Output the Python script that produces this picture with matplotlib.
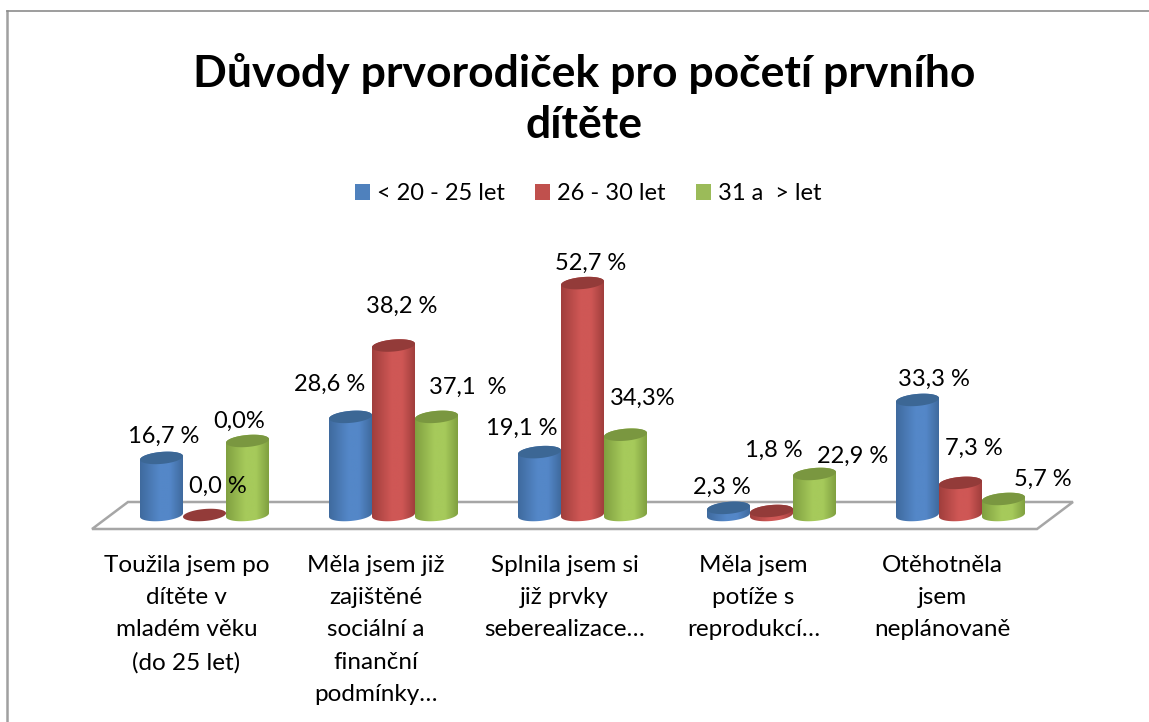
import numpy as np
import matplotlib
matplotlib.use("Agg")
import matplotlib.pyplot as plt
from matplotlib.colors import LinearSegmentedColormap
from matplotlib.patches import Patch, PathPatch, Polygon
from matplotlib.path import Path

plt.rcParams['font.family'] = ['Lato', 'DejaVu Sans']

# data
categories = [
    "Toužila jsem po\ndítěte v\nmladém věku\n(do 25 let)",
    "Měla jsem již\nzajištěné\nsociální a\nfinanční\npodmínky…",
    "Splnila jsem si\njiž prvky\nseberealizace…",
    "Měla jsem\npotíže s\nreprodukcí…",
    "Otěhotněla\njsem\nneplánovaně",
]
series_names = ["< 20 - 25 let", "26 - 30 let", "31 a  > let"]
blue_values = [12.8, 22.0, 14.1, 1.6, 25.8]
red_values = [0.0, 38.0, 52.0, 0.9, 7.2]
green_values = [16.6, 22.0, 18.0, 9.2, 3.6]
blue_labels = ["16,7 %", "28,6 %", "19,1 %", "2,3 %", "33,3 %"]
red_labels = ["0,0 %", "38,2 %", "52,7 %", "1,8 %", "7,3 %"]
green_labels = ["0,0%", "37,1  %", "34,3%", "22,9 %", "5,7 %"]

# label offsets from the top of each cylinder, in pixels
blue_offsets = [(2.5, 22), (-21, 33), (-17.5, 24), (-6.5, 21), (16.5, 21)]
red_offsets = [(13.5, 29), (8.5, 39), (8.5, 20), (2.5, 61), (13.5, 35)]
green_offsets = [(-8.5, 20), (31.5, 30), (17.5, 36), (38.5, 18), (39.5, 20)]

# colours: edge of body, light part of body, top
blue_cols = ("#3f6a9e", "#5487c8", "#3c6795")
red_cols = ("#a03e3c", "#cf5755", "#933b39")
green_cols = ("#80a040", "#a6ca5b", "#7a9740")

W, H = 1149, 722
PX_X = 189.0   # pixels per group
PX_Y = 4.46    # pixels per percent
X0 = 204.5     # pixel of first group centre
Y0 = 515.0     # pixel of baseline

BAR_W = 43 / PX_X
HALF_W = 0.5 * BAR_W
HALF_H = 6.0 / PX_Y
TILT = 1.8 / PX_Y


def cap(xc, y):
    t = np.linspace(0, 2 * np.pi, 80)
    c = np.cos(t)
    return np.column_stack([xc + HALF_W * c, y + HALF_H * np.sin(t) + TILT * c])


def cylinder(ax, xc, val, cols, z):
    edge, light, top = cols
    cmap = LinearSegmentedColormap.from_list(
        "c", [(0, edge), (0.45, light), (0.7, light), (1, edge)])
    t = np.linspace(np.pi, 2 * np.pi, 40)
    c = np.cos(t)
    low = np.column_stack([xc + HALF_W * c, HALF_H * np.sin(t) + TILT * c])
    t2 = t[::-1]
    c2 = np.cos(t2)
    up = np.column_stack([xc + HALF_W * c2, val + HALF_H * np.sin(t2) * -1 + TILT * c2])
    body = np.vstack([low, up, low[:1]])
    if val > 0:
        im = ax.imshow(np.linspace(0, 1, 128).reshape(1, -1), cmap=cmap, aspect="auto",
                       extent=(xc - HALF_W, xc + HALF_W, -2 * HALF_H, val + 2 * HALF_H),
                       zorder=z, interpolation="bilinear")
        clip = PathPatch(Path(body), transform=ax.transData, fc="none", ec="none")
        ax.add_patch(clip)
        im.set_clip_path(clip)
    ax.add_patch(Polygon(cap(xc, val), closed=True, fc=top, ec="none", zorder=z + 0.1))


fig = plt.figure(figsize=(W / 100, H / 100), dpi=100, facecolor="white")
ax = fig.add_axes([0, 0, 1, 1])
ax.set_axis_off()

# floor of the 3d chart
n = len(categories)
floor_front = -14 / PX_Y
floor_back = 13 / PX_Y
floor = [(-0.595, floor_front), (n - 1 + 0.405, floor_front),
         (n - 1 + 0.595, floor_back), (-0.405, floor_back)]
ax.add_patch(Polygon(floor, closed=True, fc="white", ec="#a6a6a6", lw=1.8, zorder=1))

# bars
x = np.arange(n)
series = [(-1, blue_values, blue_labels, blue_offsets, blue_cols, 2),
          (1, green_values, green_labels, green_offsets, green_cols, 3),
          (0, red_values, red_labels, red_offsets, red_cols, 4)]
for pos, vals, labels, offsets, cols, z in series:
    for xi, v, lab, off in zip(x, vals, labels, offsets):
        xc = xi + pos * BAR_W
        cylinder(ax, xc, v, cols, z)
        ax.annotate(lab, (xc, v), xytext=off, textcoords="offset pixels",
                    ha="center", va="center", fontsize=17, color="black", zorder=10)

ax.set_xlim(-X0 / PX_X, (W - X0) / PX_X)
ax.set_ylim((Y0 - H) / PX_Y, Y0 / PX_Y)

# category labels
for xi, cat in zip(x, categories):
    ax.text(xi - 18 / PX_X, (Y0 - 555) / PX_Y, cat, ha="center", va="top",
            fontsize=17.5, linespacing=1.66, color="black")

# title
fig.text(584 / W, 1 - 99 / H, "Důvody prvorodiček pro početí prvního\ndítěte",
         ha="center", va="center", fontsize=32, fontweight="bold", linespacing=1.34)

# legend
handles = [Patch(fc="#4f81bd", ec="none"), Patch(fc="#c0504d", ec="none"),
           Patch(fc="#9bbb59", ec="none")]
fig.legend(handles, series_names, ncol=3, frameon=False, fontsize=17,
           loc="center", bbox_to_anchor=(588 / W, 1 - 194 / H),
           handlelength=0.64, handleheight=0.64, handletextpad=0.28,
           columnspacing=1.3, borderpad=0)

# outer frame, only top and left show in the crop
fig.add_artist(plt.Line2D([7 / W, 7 / W], [0, 1 - 11 / H], color="#a0a0a0", lw=1.8))
fig.add_artist(plt.Line2D([7 / W, 1], [1 - 11 / H, 1 - 11 / H], color="#8c8c8c", lw=1.2))

fig.savefig("out.png", dpi=100)
